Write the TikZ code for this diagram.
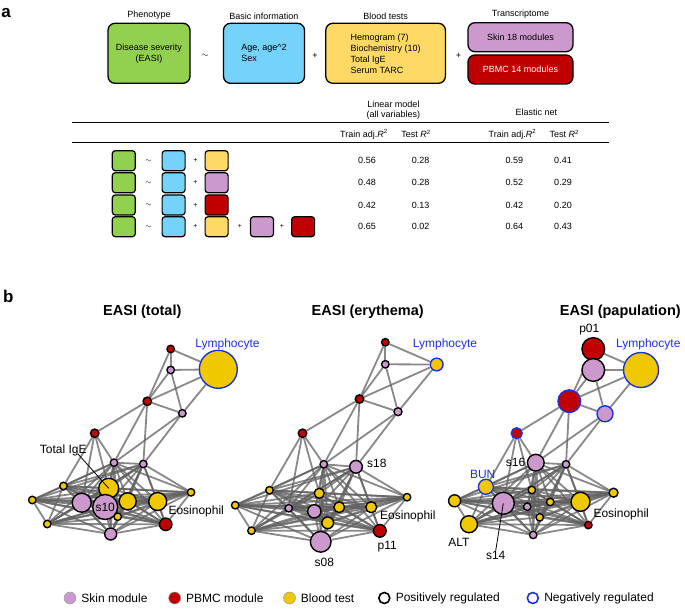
\documentclass[tikz,border=0pt]{standalone}
\usepackage{fontspec}
\setmainfont{Liberation Sans}
\usetikzlibrary{positioning}
\usetikzlibrary{backgrounds}
\definecolor{skinpink}{RGB}{204,153,204}
\definecolor{pbmcred}{RGB}{192,0,0}
\definecolor{bloodyel}{RGB}{240,200,0}
\definecolor{phgreen}{RGB}{146,208,80}
\definecolor{basicblue}{RGB}{117,210,250}
\definecolor{testyel}{RGB}{255,217,102}
\definecolor{negblue}{RGB}{30,50,220}
\tikzset{skin/.style = {circle, draw, fill=skinpink, inner sep=0, line width=1.4pt}}
\tikzset{pbmc/.style = {circle, draw, fill=pbmcred, inner sep=0, line width=1.4pt}}
\tikzset{blood/.style = {circle, draw, fill=bloodyel, inner sep=0, line width=1.4pt}}
\tikzset{neg/.style = {draw=negblue}}
\tikzset{edge/.style = {draw=black!62, line width=1.8pt, opacity=0.75}}
\tikzset{lab/.style = {font=\fontsize{12}{14}\selectfont, inner sep=0}}
\tikzset{blab/.style = {lab, text=negblue}}
\tikzset{title/.style = {font=\fontsize{14.5}{17}\selectfont\bfseries}}
\tikzset{hbox/.style = {draw, rounded corners=7, line width=1.3pt, minimum height=60}}
\tikzset{mini/.style = {draw, rounded corners=3, line width=1.2pt, minimum width=23, minimum height=20, inner sep=0}}
\tikzset{op/.style = {font=\fontsize{7}{8}\selectfont}}

\begin{document}
\begin{tikzpicture}[x=1pt, y=-1pt, font=\fontsize{9}{11}\selectfont]
      \useasboundingbox (0,0) rectangle (685,609);

      % panel a
      \node [font=\fontsize{17}{20}\selectfont\bfseries] (pa) at (6,13) {a};

      \node [hbox, fill=phgreen, minimum width=82, align=center] (pheno) at (149,53.3) {Disease severity\\(EASI)};
      \node [above=0pt of pheno] (phenolab) {Phenotype};
      \node (tilde) at (205,56) {$\sim$};
      \node [hbox, fill=basicblue, minimum width=81, align=left] (basic) at (264,53.3) {Age, age\textasciicircum 2\\Sex};
      \node [above=0pt of basic] (basiclab) {Basic information};
      \node (plus1) at (315,56) {+};
      \node [hbox, fill=testyel, minimum width=119.6, align=left] (blood) at (385.6,53.3) {Hemogram (7)\\Biochemistry (10)\\Total IgE\\Serum TARC};
      \node [above=0pt of blood] (bloodlab) {Blood tests};
      \node (plus2) at (458.5,56) {+};
      \node [hbox, fill=skinpink, minimum width=105, minimum height=29] (skin) at (520.5,37.2) {Skin 18 modules};
      \node [hbox, fill=pbmcred, text=white, minimum width=105, minimum height=29] (pbmc) at (520.5,69.5) {PBMC 14 modules};
      \node [above=0pt of skin] (translab) {Transcriptome};

      \node (linmod) at (393.5,104.3) {Linear model};
      \node (allvar) at (393.5,115) {(all variables)};
      \node (elnet) at (536.3,112.7) {Elastic net};
      \draw [line width=0.9pt] (72,122.3) -- (609,122.3);
      \node (htrain1) at (364,134) {Train adj.\textit{R}\textsuperscript{2}};
      \node (htest1) at (416,134) {Test \textit{R}\textsuperscript{2}};
      \node (htrain2) at (512.4,134) {Train adj.\textit{R}\textsuperscript{2}};
      \node (htest2) at (564.2,134) {Test \textit{R}\textsuperscript{2}};
      \draw [line width=0.9pt] (72,142.7) -- (609,142.7);

      \foreach \y/\c/\va/\vb/\vc/\vd [count=\r] in {160.7/testyel/0.56/0.28/0.59/0.41, 182.7/skinpink/0.48/0.28/0.52/0.29, 205/pbmcred/0.42/0.13/0.42/0.20, 226.7/testyel/0.65/0.02/0.64/0.43} {
        \node [mini, fill=phgreen] (g\r) at (123.8,\y) {};
        \node [op] at (148.5,\y) {$\sim$};
        \node [mini, fill=basicblue] (b\r) at (173.6,\y) {};
        \node [op] at (195.5,\y) {+};
        \node [mini, fill=\c] (c\r) at (216.6,\y) {};
        \node at (367,\y) {\va};
        \node at (420.7,\y) {\vb};
        \node at (514.4,\y) {\vc};
        \node at (563,\y) {\vd};
      }
      \node [op] at (240,226.7) {+};
      \node [mini, fill=skinpink] (d4) at (262,226.7) {};
      \node [op] at (282,226.7) {+};
      \node [mini, fill=pbmcred] (e4) at (303.1,226.7) {};

      % panel b
      \node [font=\fontsize{17}{20}\selectfont\bfseries] (pb) at (8.3,296) {b};
      \node [title] (ttl-t) at (142.3,311.7) {EASI (total)};
      \node [title] (ttl-e) at (367.7,311.7) {EASI (erythema)};
      \node [title] (ttl-p) at (620.3,311.7) {EASI (papulation)};

      % EASI (total)
      \node [pbmc, minimum size=7.5] (t-A) at (170.7,349) {};
      \node [skin, minimum size=7.5] (t-B) at (170.7,370) {};
      \node [blood, neg, minimum size=38] (t-Y) at (218.3,369.3) {};
      \node [pbmc, minimum size=8.5] (t-C) at (147.3,401.3) {};
      \node [skin, minimum size=7.5] (t-D) at (182.3,413.3) {};
      \node [pbmc, minimum size=8.5] (t-E) at (94.7,433.3) {};
      \node [skin, minimum size=7.5] (t-F) at (114,462.7) {};
      \node [skin, minimum size=7.5] (t-G) at (143.3,464) {};
      \node [blood, minimum size=20] (t-H) at (108.7,488.3) {};
      \node [blood, minimum size=7.5] (t-I) at (63.5,486) {};
      \node [blood, minimum size=7.5] (t-J) at (32.3,500) {};
      \node [skin, minimum size=19] (t-K) at (81.7,502.7) {};
      \node [skin, minimum size=25, font=\fontsize{12}{14}\selectfont] (t-L) at (105.2,507) {s10};
      \node [blood, minimum size=17] (t-M) at (127.7,501.3) {};
      \node [blood, minimum size=18] (t-N) at (157.7,501.5) {};
      \node [blood, minimum size=7.5] (t-O) at (191,492.3) {};
      \node [blood, minimum size=7.5] (t-P) at (117.7,516.7) {};
      \node [blood, minimum size=7.5] (t-Q) at (47.3,524) {};
      \node [skin, minimum size=12] (t-R) at (110.7,534) {};
      \node [pbmc, minimum size=12.5] (t-S) at (165.7,524.3) {};
      \node [blab] (t-lym) at (227.5,344) {Lymphocyte};
      \node [lab] (t-ige) at (63.3,450.7) {Total IgE};
      \draw [line width=0.8pt] ([xshift=-9pt]t-ige.base east) -- (t-H.center);
      \node [lab, anchor=west] (t-eos) at (168.3,511.7) {Eosinophil};

      % EASI (erythema)
      \node [pbmc, minimum size=7.5] (e-A) at (385.3,342.3) {};
      \node [skin, minimum size=7.5] (e-B) at (385.3,364.3) {};
      \node [blood, neg, minimum size=12.7] (e-Y) at (436.7,364.5) {};
      \node [pbmc, minimum size=8.5] (e-C) at (359.5,399) {};
      \node [skin, minimum size=8] (e-D) at (398,411.7) {};
      \node [pbmc, minimum size=8.5] (e-E) at (302.5,433.3) {};
      \node [skin, minimum size=7.5] (e-F) at (323.8,464.3) {};
      \node [skin, minimum size=12.7] (e-G) at (356,466.8) {};
      \node [blood, minimum size=10] (e-H) at (319.3,493.3) {};
      \node [blood, minimum size=7.5] (e-I) at (269.5,490.2) {};
      \node [blood, minimum size=7.5] (e-J) at (235.2,505.2) {};
      \node [skin, minimum size=7.5] (e-K) at (288.7,508.2) {};
      \node [skin, minimum size=13.3] (e-L) at (314.3,511.3) {};
      \node [blood, minimum size=10.7] (e-M) at (339.2,507.2) {};
      \node [blood, minimum size=11] (e-N) at (371.2,507.2) {};
      \node [blood, minimum size=7.5] (e-O) at (407,497.2) {};
      \node [blood, minimum size=11.7] (e-P) at (327.7,522.8) {};
      \node [blood, minimum size=7.5] (e-Q) at (251.5,530.7) {};
      \node [skin, minimum size=20.7] (e-R) at (320.7,541.8) {};
      \node [pbmc, minimum size=12.7] (e-S) at (379.8,530.8) {};
      \node [blab] (e-lym) at (445,344) {Lymphocyte};
      \node [lab, anchor=west] (e-s18) at (367,463.5) {s18};
      \node [lab, anchor=west] (e-eos) at (380,516.7) {Eosinophil};
      \node [lab] (e-p11) at (387.3,546.7) {p11};
      \node [lab] (e-s08) at (324.3,562.7) {s08};

      % EASI (papulation)
      \node [pbmc, minimum size=22.7] (p-A) at (593.3,349) {};
      \node [skin, minimum size=22.7] (p-B) at (593.3,370) {};
      \node [blood, neg, minimum size=35] (p-Y) at (641,370) {};
      \node [pbmc, neg, minimum size=22.7] (p-C) at (569.3,401.2) {};
      \node [skin, neg, minimum size=16] (p-D) at (605,413.8) {};
      \node [pbmc, neg, minimum size=11] (p-E) at (516.7,433.3) {};
      \node [skin, minimum size=16.7] (p-F) at (535.8,462.7) {};
      \node [skin, minimum size=7.5] (p-G) at (566,464.3) {};
      \node [blood, neg, minimum size=15] (p-H) at (485.9,486.8) {};
      \node [blood, minimum size=7.5] (p-I) at (531.8,490) {};
      \node [blood, minimum size=12] (p-J) at (454.6,500.8) {};
      \node [skin, minimum size=22] (p-K) at (503.3,503.3) {};
      \node [skin, minimum size=7.5] (p-L) at (527.2,506.7) {};
      \node [blood, minimum size=7.5] (p-M) at (550.2,502) {};
      \node [blood, minimum size=19] (p-N) at (580.5,501.8) {};
      \node [blood, minimum size=9] (p-O) at (613.5,492.7) {};
      \node [blood, minimum size=7.5] (p-P) at (539.7,517.3) {};
      \node [blood, minimum size=17] (p-Q) at (469,524.2) {};
      \node [skin, minimum size=7.5] (p-R) at (533.2,534.9) {};
      \node [pbmc, minimum size=7.5] (p-S) at (588.3,525) {};
      \node [lab] (p-p01) at (589.3,330) {p01};
      \node [blab] (p-lym) at (648.3,344) {Lymphocyte};
      \node [blab] (p-bun) at (482.7,474) {BUN};
      \node [lab, anchor=east] (p-s16) at (525.5,462.7) {s16};
      \node [lab] (p-alt) at (459,542.7) {ALT};
      \node [lab] (p-s14) at (495.7,555) {s14};
      \draw [line width=0.8pt] (p-K.center) -- (p-s14.north);
      \node [lab] (p-eos) at (621.2,514.3) {Eosinophil};

      \begin{scope}[on background layer]
        \foreach \n in {t,e,p} {
          \foreach \u/\v in {A/B, A/Y, B/Y, A/C, B/C, B/D, C/Y, D/Y, C/D, C/E, C/F, C/G, D/F, D/G, E/F, E/H, E/K, E/I}
            \draw [edge] (\n-\u) -- (\n-\v);
          \foreach \u [count=\i] in {F,G,H,I,J,K,L,M,N,O,P,Q,R,S} {
            \foreach \v [count=\j] in {F,G,H,I,J,K,L,M,N,O,P,Q,R,S} {
              \ifnum\j>\i\relax \draw [edge] (\n-\u) -- (\n-\v); \fi
            }
          }
        }
      \end{scope}

      % legend
      \node [skin, minimum size=12, line width=0.5pt, draw=black!40] (lg-skin) at (70,598) {};
      \node [lab, right=5pt of lg-skin] (lg-skint) {Skin module};
      \node [pbmc, minimum size=12, line width=0.5pt, draw=black!40] (lg-pbmc) at (174.7,598) {};
      \node [lab, right=5pt of lg-pbmc] (lg-pbmct) {PBMC module};
      \node [blood, minimum size=12, line width=0.5pt, draw=black!40] (lg-blood) at (289.5,598) {};
      \node [lab, right=5pt of lg-blood] (lg-bloodt) {Blood test};
      \node [circle, draw, line width=1.6pt, minimum size=11, inner sep=0] (lg-pos) at (384.3,598) {};
      \node [lab, right=5pt of lg-pos] (lg-post) {Positively regulated};
      \node [circle, draw=negblue, line width=1.6pt, minimum size=11, inner sep=0] (lg-neg) at (532.8,598) {};
      \node [lab, right=5pt of lg-neg] (lg-negt) {Negatively regulated};
    \end{tikzpicture}
\end{document}
